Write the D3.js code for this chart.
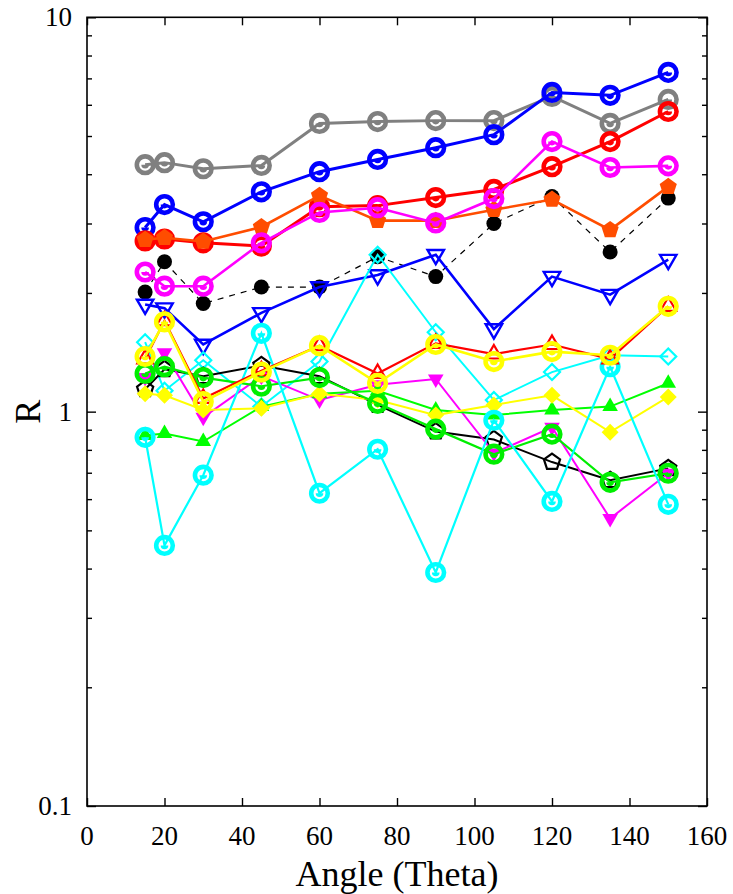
<!DOCTYPE html>
<html><head><meta charset="utf-8">
<script src="https://cdn.jsdelivr.net/npm/d3@7"></script>
<style>body{margin:0;background:#fff} svg{display:block}</style>
</head><body><svg id="c" width="733" height="894"></svg>
<script>
// ---- data ----
const angles = [15, 20, 30, 45, 60, 75, 90, 105, 120, 135, 150];
const blackDots      = [2.01, 2.40, 1.88, 2.07, 2.07, 2.47, 2.20, 3.00, 3.51, 2.54, 3.48];
const grayCircles    = [4.23, 4.28, 4.13, 4.21, 5.38, 5.44, 5.47, 5.47, 6.30, 5.38, 6.19];
const blueCircles    = [2.93, 3.35, 3.03, 3.61, 4.06, 4.36, 4.67, 5.04, 6.45, 6.34, 7.25];
const redCircles     = [2.71, 2.74, 2.68, 2.63, 3.31, 3.33, 3.49, 3.66, 4.18, 4.84, 5.77];
const orangePentagons= [2.73, 2.76, 2.70, 2.94, 3.53, 3.05, 3.05, 3.25, 3.45, 2.89, 3.72];
const magentaCircles = [2.26, 2.08, 2.08, 2.68, 3.20, 3.29, 3.01, 3.47, 4.84, 4.16, 4.20];
const blueTriangles  = [1.87, 1.83, 1.48, 1.78, 2.07, 2.22, 2.50, 1.62, 2.20, 1.98, 2.43];
const cyanDiamonds   = [1.50, 1.13, 1.35, 1.03, 1.34, 2.50, 1.59, 1.07, 1.26, 1.39, 1.38];
const blackPentagons = [1.14, 1.28, 1.23, 1.31, 1.23, 1.04, 0.89, 0.85, 0.745, 0.67, 0.718];
const magentaTriangles=[1.22, 1.41, 0.968, 1.23, 1.07, 1.17, 1.21, 0.785, 0.913, 0.536, 0.698];
const greenTriangles = [0.87, 0.88, 0.84, 1.03, 1.11, 1.13, 1.01, 0.98, 1.01, 1.03, 1.18];
const yellowDiamonds = [1.11, 1.10, 1.01, 1.02, 1.11, 1.07, 0.98, 1.04, 1.10, 0.887, 1.09];
const greenCircles   = [1.25, 1.30, 1.22, 1.16, 1.22, 1.05, 0.903, 0.780, 0.877, 0.662, 0.698];
const cyanCircles    = [0.861, 0.458, 0.690, 1.58, 0.621, 0.803, 0.391, 0.951, 0.592, 1.30, 0.582];
const redTriangles   = [1.36, 1.70, 1.08, 1.27, 1.47, 1.25, 1.49, 1.40, 1.48, 1.36, 1.85];
const yellowCircles  = [1.38, 1.69, 1.06, 1.26, 1.47, 1.18, 1.48, 1.34, 1.42, 1.39, 1.85];

const xTicks = [0, 20, 40, 60, 80, 100, 120, 140, 160];
const yMajor = [0.1, 1, 10];
const yMinor = [0.2,0.3,0.4,0.5,0.6,0.7,0.8,0.9,2,3,4,5,6,7,8,9];
const xTitle = "Angle (Theta)";
const yTitle = "R";

const series = [
  {v: blackDots,       color: "#000000", marker: "dot",      lw: 1.2, dash: "6,6"},
  {v: grayCircles,     color: "#808080", marker: "ring",     lw: 3},
  {v: blueCircles,     color: "#0000ff", marker: "ring",     lw: 3},
  {v: redCircles,      color: "#ff0000", marker: "ring",     lw: 3},
  {v: orangePentagons, color: "#ff4d00", marker: "pentF",    lw: 2.6},
  {v: magentaCircles,  color: "#ff00ff", marker: "ring",     lw: 2.6},
  {v: blueTriangles,   color: "#0000ff", marker: "triDownO", lw: 2.6},
  {v: cyanDiamonds,    color: "#00ffff", marker: "diaO",     lw: 2},
  {v: blackPentagons,  color: "#000000", marker: "pentO",    lw: 2},
  {v: magentaTriangles,color: "#ff00ff", marker: "triDownF", lw: 2},
  {v: greenTriangles,  color: "#00ff00", marker: "triUpF",   lw: 2},
  {v: yellowDiamonds,  color: "#ffff00", marker: "diaF",     lw: 2},
  {v: greenCircles,    color: "#00ee00", marker: "ring",     lw: 2.2},
  {v: cyanCircles,     color: "#00ffff", marker: "ring",     lw: 2.2},
  {v: redTriangles,    color: "#ff0000", marker: "triUpO",   lw: 2.2},
  {v: yellowCircles,   color: "#ffff00", marker: "ring",     lw: 2.6},
];

// ---- layout ----
const svg = d3.select("#c");
const L = 87, R = 707, T = 17.3, B = 806;
const x = d3.scaleLinear().domain([0, 160]).range([L, R]);
const y = d3.scaleLog().domain([0.1, 10]).range([B, T]);
const font = "Liberation Serif";
const tickFs = 27;

// axes (ticks only; labels drawn separately)
const gx = svg.append("g").attr("transform", `translate(0,${B})`)
  .call(d3.axisBottom(x).tickValues(xTicks).tickSize(-8).tickFormat(""));
const gxt = svg.append("g").attr("transform", `translate(0,${T})`)
  .call(d3.axisTop(x).tickValues(xTicks).tickSize(-8).tickFormat(""));
const gy = svg.append("g").attr("transform", `translate(${L},0)`)
  .call(d3.axisLeft(y).tickValues(yMajor).tickSize(-9).tickFormat(""));
const gym = svg.append("g").attr("transform", `translate(${L},0)`)
  .call(d3.axisLeft(y).tickValues(yMinor).tickSize(-5).tickFormat(""));
const gyr = svg.append("g").attr("transform", `translate(${R},0)`)
  .call(d3.axisRight(y).tickValues(yMajor).tickSize(-9).tickFormat(""));
const gyrm = svg.append("g").attr("transform", `translate(${R},0)`)
  .call(d3.axisRight(y).tickValues(yMinor).tickSize(-5).tickFormat(""));
[gx, gxt, gy, gym, gyr, gyrm].forEach(g => {
  g.select(".domain").remove();
  g.selectAll("text").remove();
  g.selectAll("line").attr("stroke", "#000").attr("stroke-width", 1.4);
});

svg.append("g").selectAll("text").data(xTicks).join("text")
  .attr("x", d => x(d)).attr("y", B + 39).attr("text-anchor", "middle")
  .attr("font-family", font).attr("font-size", tickFs).attr("fill", "#000")
  .text(d => d3.format("d")(d));
svg.append("g").selectAll("text").data(yMajor).join("text")
  .attr("x", L - 15).attr("y", d => y(d) + 9).attr("text-anchor", "end")
  .attr("font-family", font).attr("font-size", tickFs).attr("fill", "#000")
  .text(d => String(d));

svg.append("rect").attr("x", L).attr("y", T).attr("width", R - L).attr("height", B - T)
  .attr("fill", "none").attr("stroke", "#000").attr("stroke-width", 1.6);

svg.append("text").attr("x", (L + R) / 2).attr("y", 886).attr("text-anchor", "middle")
  .attr("font-family", font).attr("font-size", 36).text(xTitle);
svg.append("text").attr("transform", `translate(40,${y(1)}) rotate(-90)`).attr("text-anchor", "middle")
  .attr("font-family", font).attr("font-size", 36).text(yTitle);

// ---- marks ----
const line = d3.line().x(d => x(d[0])).y(d => y(d[1]));
function pentPath(r) {
  const pts = d3.range(5).map(i => {
    const a = -Math.PI / 2 + i * 2 * Math.PI / 5;
    return [r * Math.cos(a), r * Math.sin(a)];
  });
  return "M" + pts.map(p => p.join(",")).join("L") + "Z";
}
function triPath(r, down) {
  const s = down ? -1 : 1;
  const pts = [[0, -r * s], [r * 0.866, r * 0.5 * s], [-r * 0.866, r * 0.5 * s]];
  return "M" + pts.map(p => p.join(",")).join("L") + "Z";
}
function diaPath(r) {
  return `M0,${-r}L${r},0L0,${r}L${-r},0Z`;
}

const plot = svg.append("g");
series.forEach(s => {
  const pts = angles.map((a, i) => [a, s.v[i]]);
  const g = plot.append("g");
  g.append("path").attr("d", line(pts)).attr("fill", "none")
    .attr("stroke", s.color).attr("stroke-width", s.lw)
    .attr("stroke-dasharray", s.dash || null);
  const m = g.selectAll("g.m").data(pts).join("g").attr("class", "m")
    .attr("transform", d => `translate(${x(d[0])},${y(d[1])})`);
  switch (s.marker) {
    case "dot":
      m.append("circle").attr("r", 7.5).attr("fill", s.color); break;
    case "ring":
      m.append("circle").attr("r", 8.3).attr("fill", "none").attr("stroke", s.color).attr("stroke-width", 4.6);
      m.append("path").attr("d", d3.arc()({innerRadius: 0, outerRadius: 3.8, startAngle: Math.PI / 2, endAngle: 3 * Math.PI / 2}))
        .attr("fill", s.color);
      break;
    case "pentF":
      m.append("path").attr("d", pentPath(9)).attr("fill", s.color); break;
    case "pentO":
      m.append("path").attr("d", pentPath(8.5)).attr("fill", "none").attr("stroke", s.color).attr("stroke-width", 2.2); break;
    case "triDownO":
      m.append("path").attr("d", triPath(9.5, true)).attr("fill", "none").attr("stroke", s.color).attr("stroke-width", 2.4); break;
    case "triDownF":
      m.append("path").attr("d", triPath(9, true)).attr("fill", s.color); break;
    case "triUpF":
      m.append("path").attr("d", triPath(9, false)).attr("fill", s.color); break;
    case "triUpO":
      m.append("path").attr("d", triPath(9, false)).attr("fill", "none").attr("stroke", s.color).attr("stroke-width", 2.2); break;
    case "diaO":
      m.append("path").attr("d", diaPath(8)).attr("fill", "none").attr("stroke", s.color).attr("stroke-width", 2.2); break;
    case "diaF":
      m.append("path").attr("d", diaPath(8.5)).attr("fill", s.color); break;
  }
});
</script>
</body></html>
